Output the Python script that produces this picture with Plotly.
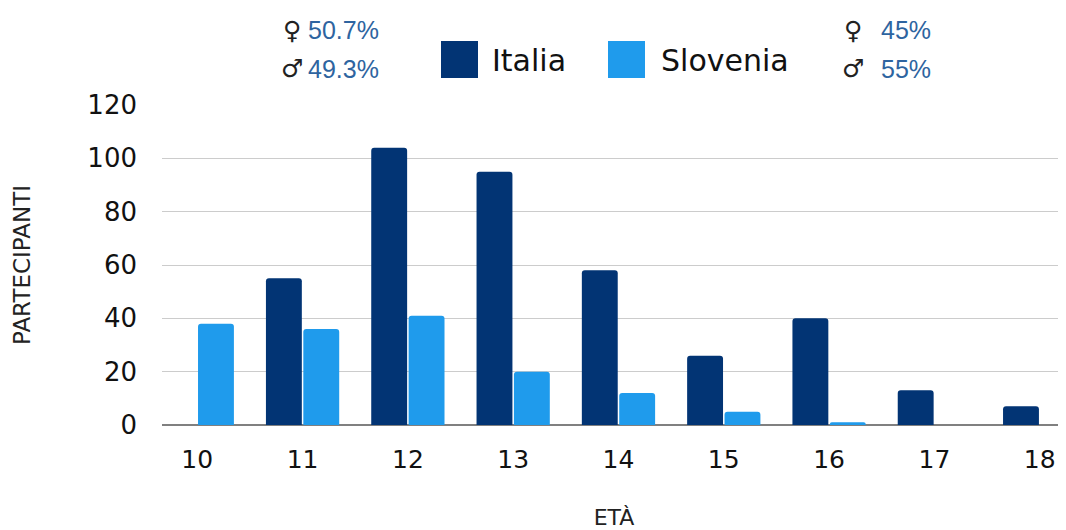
import plotly.graph_objects as go

ages = [10, 11, 12, 13, 14, 15, 16, 17, 18]
italia = [0, 55, 104, 95, 58, 26, 40, 13, 7]
slovenia = [38, 36, 41, 20, 12, 5, 1, 0, 0]
series_names = ["Italia", "Slovenia"]
series_colors = ["#023474", "#1f9bec"]
y_ticks = [0, 20, 40, 60, 80, 100, 120]

FONT = "DejaVu Sans"
OFF = 8  # default page body margin
W, H = 1066, 530 - OFF
L, R, T = 162 - OFF, OFF, 105 - OFF
B = H - (425 - OFF)
PW, PH = W - L - R, H - T - B

def ax(x):
    return (x - OFF - L) / PW

def ay(y):
    return (H - B - (y - OFF)) / PH

fig = go.Figure()
fig.add_trace(go.Bar(x=ages, y=italia, name=series_names[0],
                     marker=dict(color=series_colors[0], cornerradius=3, line=dict(width=0)),
                     showlegend=False))
fig.add_trace(go.Bar(x=ages, y=slovenia, name=series_names[1],
                     marker=dict(color=series_colors[1], cornerradius=3, line=dict(width=0)),
                     showlegend=False))

# custom legend (large squares)
shapes = []
annotations = []
legend_pos = [(441, 478, 490), (608, 645, 659)]
for (x0, x1, tx), name, col in zip(legend_pos, series_names, series_colors):
    shapes.append(dict(type="rect", xref="paper", yref="paper",
                       x0=ax(x0), x1=ax(x1), y0=ay(78), y1=ay(41),
                       fillcolor=col, line=dict(width=0)))
    annotations.append(dict(xref="paper", yref="paper", x=ax(tx), y=ay(60),
                            text=name, showarrow=False,
                            xanchor="left", yanchor="middle",
                            font=dict(family=FONT, size=30, color="#111111")))

# gender stats
gender = [
    (292, 30, "♀", "50.7%", 306),
    (292, 69, "♂", "49.3%", 306),
    (853, 30, "♀", "45%", 879),
    (853, 69, "♂", "55%", 879),
]
for sx, sy, sym, pct, tx in gender:
    annotations.append(dict(xref="paper", yref="paper", x=ax(sx), y=ay(sy),
                            text=sym, showarrow=False,
                            xanchor="center", yanchor="middle",
                            font=dict(family=FONT, size=25, color="#222222")))
    annotations.append(dict(xref="paper", yref="paper", x=ax(tx), y=ay(sy),
                            text=pct, showarrow=False,
                            xanchor="left", yanchor="middle",
                            font=dict(family="Liberation Sans", size=25, color="#2e64a0")))

fig.update_layout(
    width=W, height=H,
    margin=dict(l=L, r=R, t=T, b=B),
    plot_bgcolor="white", paper_bgcolor="white",
    barmode="group", bargap=0.29, bargroupgap=0.04,
    shapes=shapes, annotations=annotations,
    font=dict(family=FONT, color="#111111"),
)
fig.update_xaxes(
    range=[9.665, 18.25], tickvals=ages, ticktext=[str(a) for a in ages],
    tickfont=dict(size=25, color="#111111"), showgrid=False, automargin=False,
    showline=False, zeroline=False, ticks="outside", ticklen=12, tickcolor="white",
    title=dict(text="ETÀ", font=dict(size=22, color="#222222"), standoff=50),
)
fig.update_yaxes(
    range=[0, 120], tickvals=y_ticks, tickfont=dict(size=26, color="#111111"),
    showgrid=True, gridcolor="#cccccc", gridwidth=1, automargin=False,
    zeroline=True, zerolinecolor="#808080", zerolinewidth=1.5,
    showline=False, ticks="", ticklabelstandoff=24,
    title=dict(text="PARTECIPANTI", font=dict(size=23, color="#222222"), standoff=50),
)

fig.write_html("out.html")
